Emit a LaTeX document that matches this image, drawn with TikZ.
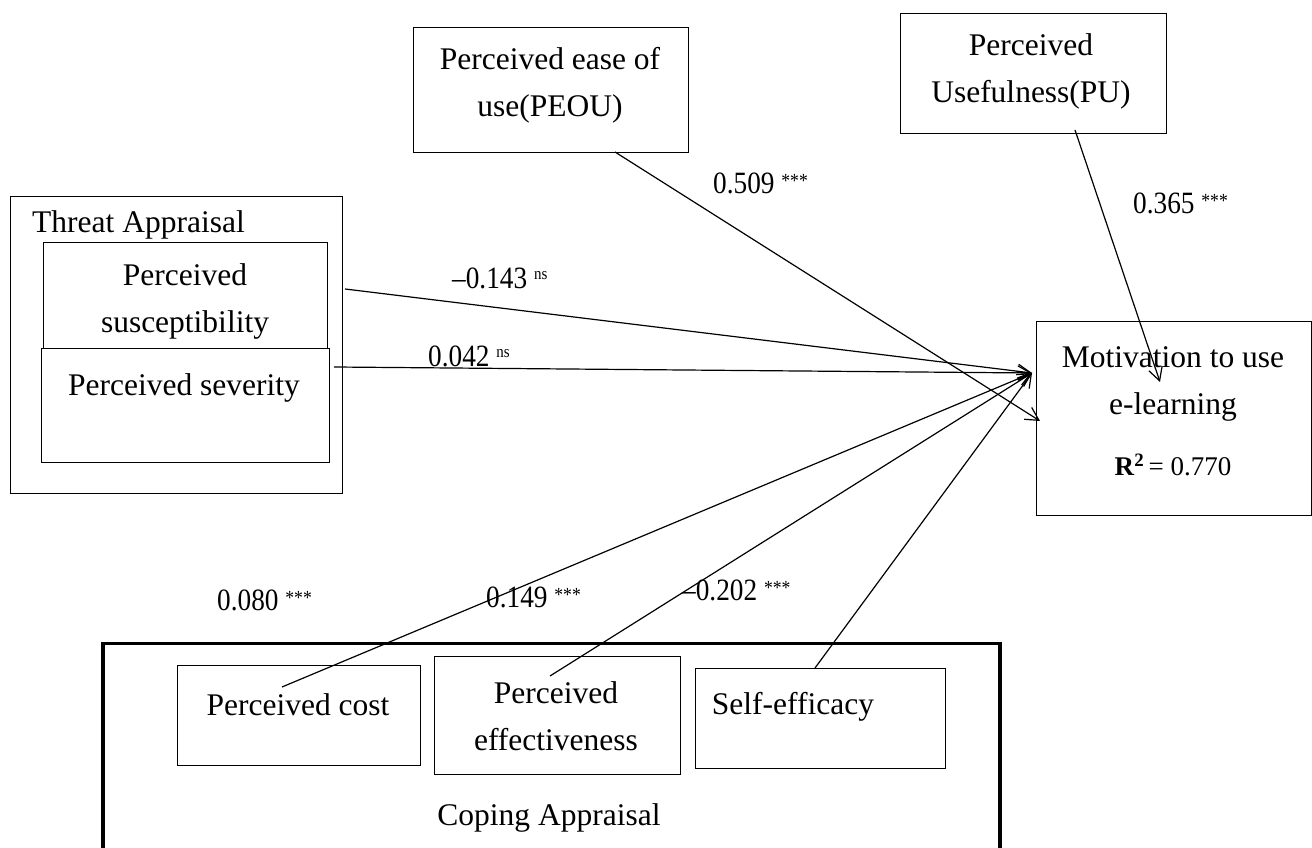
\documentclass[tikz,border=0pt]{standalone}
\usepackage{fontspec}
\setmainfont{Liberation Serif}
\newfontfamily\coeffont[FakeStretch=0.88]{Liberation Serif}
\usetikzlibrary{arrows.meta,calc}
\newcommand\mystars{\raisebox{6pt}{\fontsize{20}{20}\selectfont ***}}
\newcommand\myns{\raisebox{9pt}{\fontsize{17}{17}\selectfont ns}}
\begin{document}
\begin{tikzpicture}[x=1pt,y=1pt,
 box/.style={draw, line width=1.3pt, inner sep=0pt, anchor=north west},
 txt/.style={font=\fontsize{31.5}{47}\selectfont, align=center, inner sep=0pt},
 coef/.style={font=\coeffont\fontsize{31}{34}\selectfont, anchor=west, inner sep=0pt},
 link/.style={line width=1.2pt, -{Straight Barb[length=13pt,width=14pt,line width=1.2pt]}}
]
\useasboundingbox (0,0) rectangle (1312,848);
% boxes
\node[box, minimum width=275pt, minimum height=125pt] (peou) at (413,821) {};
\node[box, minimum width=266pt, minimum height=120pt] (pu) at (900,835) {};
\node[box, minimum width=332pt, minimum height=297pt] (threat) at (10,652) {};
\node[box, minimum width=284pt, minimum height=106pt] (susc) at (43,606) {};
\node[box, minimum width=288pt, minimum height=114pt] (sev) at (41,500) {};
\node[box, minimum width=275pt, minimum height=194pt] (motiv) at (1036,527) {};
\node[box, line width=3.5pt, minimum width=897pt, minimum height=230pt] (coping) at (101,206) {};
\node[box, minimum width=243pt, minimum height=100pt] (cost) at (177,183) {};
\node[box, minimum width=246pt, minimum height=118pt] (effect) at (434,192) {};
\node[box, minimum width=250pt, minimum height=100pt] (self) at (695,180) {};
% texts
\node[txt] (peou-t) at (550,763) {Perceived ease of\\use(PEOU)};
\node[txt] (pu-t) at (1031,777) {Perceived\\Usefulness(PU)};
\node[txt, anchor=west] (threat-t) at (32,623) {Threat Appraisal};
\node[txt] (susc-t) at (185,547) {Perceived\\susceptibility};
\node[txt] (sev-t) at (184,460) {Perceived severity};
\node[txt] (motiv-t) at (1173,437) {Motivation to use\\e-learning\\[14pt]{\fontsize{27}{30}\selectfont\textbf{R}\textsuperscript{\textbf{2}}\,= 0.770}};
\node[txt] (cost-t) at (298,143) {Perceived cost};
\node[txt] (effect-t) at (556,132) {Perceived\\effectiveness};
\node[txt] (self-t) at (793,141) {Self-efficacy};
\node[txt] (coping-t) at (549,30) {Coping Appraisal};
% coefficients
\node[coef] (c-peou) at (713,665) {0.509 \mystars};
\node[coef] (c-pu) at (1133,645) {0.365 \mystars};
\node[coef] (c-susc) at (452,570) {–0.143 \myns};
\node[coef] (c-sev) at (428,492) {0.042 \myns};
\node[coef] (c-cost) at (217,248) {0.080 \mystars};
\node[coef] (c-effect) at (486,251) {0.149 \mystars};
\node[coef] (c-self) at (682,258) {–0.202 \mystars};
% connector end points
\coordinate (conv) at (1032,475);
\coordinate (peou-end) at (1040,427);
\coordinate (pu-end) at (1160,466);
\coordinate (peou-s) at (615,696);
\coordinate (pu-s) at (1075,718);
\coordinate (susc-s) at (345,559);
\coordinate (sev-s) at (334,481);
\coordinate (cost-s) at (282,161);
\coordinate (effect-s) at (550,172);
\coordinate (self-s) at (815,180);
% connectors
\draw[link] (peou-s) -- (peou-end);
\draw[link] (pu-s) -- (pu-end);
\draw[link] (susc-s) -- (conv);
\draw[link] (sev-s) -- (conv);
\draw[link] (cost-s) -- (conv);
\draw[link] (effect-s) -- (conv);
\draw[link] (self-s) -- (conv);
\end{tikzpicture}
\end{document}
